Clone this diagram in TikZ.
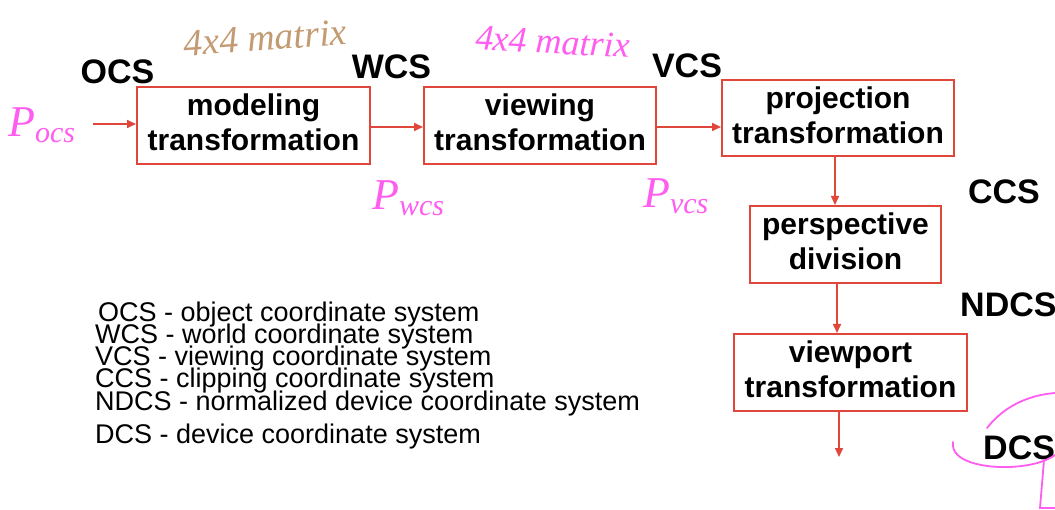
\documentclass[tikz,border=0pt]{standalone}
\usepackage{fontspec}
\setmainfont{Liberation Sans}
\newfontfamily\handfont{Liberation Serif}
\usetikzlibrary{arrows.meta}
\definecolor{boxred}{HTML}{E0463A}
\definecolor{pinkink}{HTML}{FF5CF0}
\definecolor{brownink}{HTML}{C39A72}
\begin{document}
\begin{tikzpicture}[x=1pt,y=-1pt,
  stagebox/.style={draw=boxred,line width=2pt,align=center,inner sep=0pt,text depth=6pt,
    font=\bfseries\fontsize{30}{35}\selectfont},
  arr/.style={draw=boxred,line width=1.6pt,-{Triangle[length=9pt,width=8pt]}},
  cslabel/.style={font=\bfseries\fontsize{34}{38}\selectfont,inner sep=0pt},
  legend/.style={anchor=base west,font=\fontsize{27}{27}\selectfont,inner sep=0pt},
  hand/.style={text=pinkink,font=\handfont\itshape\fontsize{44}{44}\selectfont,inner sep=0pt}]
\useasboundingbox (0,0) rectangle (1055,510);

% stages
\node[stagebox,minimum width=233pt,minimum height=77pt] (model) at (253.5,125.5) {modeling\\transformation};
\node[stagebox,minimum width=232pt,minimum height=77pt] (view) at (540,125.5) {viewing\\transformation};
\node[stagebox,minimum width=232pt,minimum height=76pt] (proj) at (838,118) {projection\\transformation};
\node[stagebox,minimum width=191pt,minimum height=77pt] (persp) at (845.5,244.5) {perspective\\division};
\node[stagebox,minimum width=233pt,minimum height=77pt] (vport) at (850.5,372.5) {viewport\\transformation};

% connectors
\coordinate (in) at (93,124);
\coordinate (out) at (839,457);
\draw[arr] (in) -- (in -| model.west);
\draw[arr] ([yshift=-1.5pt]model.east) -- ([yshift=-1.5pt]view.west);
\draw[arr] ([yshift=-1.5pt]view.east) -- ([yshift=-1.5pt]view.east -| proj.west);
\draw[arr] ([xshift=-3pt]proj.south) -- ([xshift=-3pt]proj.south |- persp.north);
\draw[arr] ([xshift=-8.5pt]persp.south) -- ([xshift=-8.5pt]persp.south |- vport.north);
\draw[arr] ([xshift=-11.5pt]vport.south) -- ([xshift=-11.5pt]vport.south |- out);

% coordinate system labels
\node[cslabel] (ocs) at (117.5,72) {OCS};
\node[cslabel] (wcs) at (391.5,67) {WCS};
\node[cslabel] (vcs) at (687,66) {VCS};
\node[cslabel] (ccs) at (1004,192) {CCS};
\node[cslabel,anchor=west] (ndcs) at (960,305) {NDCS};
\node[cslabel,anchor=west] (dcs) at (983,448) {DCS};

% legend
\node[legend] (l1) at (98,322) {OCS - object coordinate system};
\node[legend] (l2) at (95,344) {WCS - world coordinate system};
\node[legend] (l3) at (95,366) {VCS - viewing coordinate system};
\node[legend] (l4) at (95,388) {CCS - clipping coordinate system};
\node[legend] (l5) at (95,411) {NDCS - normalized device coordinate system};
\node[legend] (l6) at (95,443) {DCS - device coordinate system};

% handwritten annotations
\node[hand,anchor=west] (pocs) at (8,125) {P\textsubscript{\fontsize{30}{30}\selectfont ocs}};
\node[hand,anchor=west] (pwcs) at (372,198) {P\textsubscript{\fontsize{30}{30}\selectfont wcs}};
\node[hand,anchor=west] (pvcs) at (643,196) {P\textsubscript{\fontsize{30}{30}\selectfont vcs}};
\node[hand,text=brownink,font=\handfont\itshape\fontsize{38}{38}\selectfont,rotate=4] (m1) at (265,38) {4x4 matrix};
\node[hand,font=\handfont\itshape\fontsize{36}{36}\selectfont,rotate=-3] (m2) at (553,42) {4x4 matrix};

% scribble around DCS
\draw[pinkink,line width=1.8pt,line cap=round]
  (987,428) .. controls (1005,405) and (1030,395) .. (1055,393);
\draw[pinkink,line width=1.8pt,line cap=round]
  (953,442) .. controls (950,462) and (985,468) .. (1010,467)
  .. controls (1030,466) and (1045,462) .. (1055,455);
\draw[pinkink,line width=1.8pt,line cap=round]
  (1044,460) -- (1040,508) -- (1055,508);
\end{tikzpicture}
\end{document}
